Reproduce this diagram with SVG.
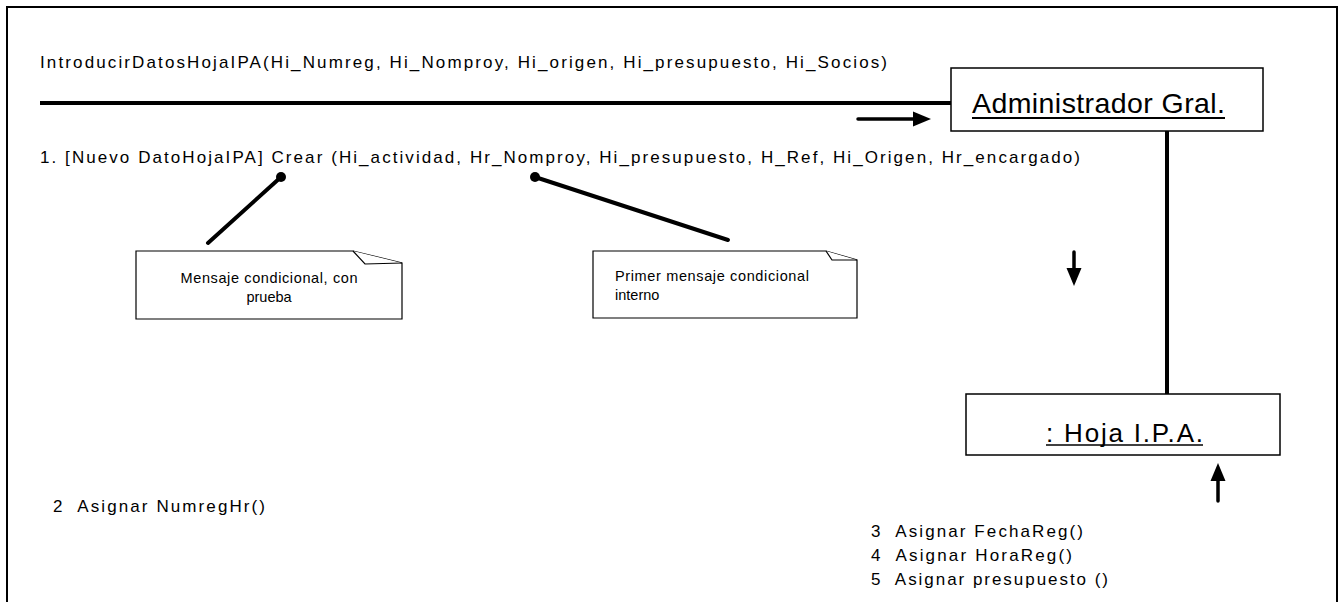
<svg xmlns="http://www.w3.org/2000/svg" width="1339" height="602" viewBox="0 0 1339 602">
  <style>
    text { font-family: "Liberation Sans", Arial, sans-serif; fill: #000; }
    .msg { font-size: 17px; }
    .note-text { font-size: 14.5px; }
    .obj { fill: #fff; stroke: #000; stroke-width: 1.5; }
    .note { fill: #fff; stroke: #000; stroke-width: 1.2; }
    .link { stroke: #000; stroke-width: 4; fill: none; }
    .anchor { stroke: #000; stroke-width: 4; stroke-linecap: round; fill: none; }
    .flow { stroke: #000; stroke-width: 3.5; stroke-linecap: round; fill: none; }
    .head { fill: #000; stroke: none; }
  </style>

  <rect width="1339" height="602" fill="#fff"/>
  <!-- diagram frame -->
  <path d="M7,620 L7,7 L1337,7 L1337,620" fill="none" stroke="#000" stroke-width="2"/>

  <!-- connectors -->
  <g id="connectors">
    <line class="link" x1="40" y1="103" x2="952" y2="103"/>
    <line class="link" x1="1167" y1="131" x2="1167" y2="394"/>
    <!-- message direction arrows -->
    <line class="flow" x1="858" y1="119" x2="916" y2="119"/>
    <polygon class="head" points="913,111.5 931,119 913,126.5"/>
    <line class="flow" x1="1074" y1="252" x2="1074" y2="270"/>
    <polygon class="head" points="1066.5,268 1074,286 1081.5,268"/>
    <line class="flow" x1="1218" y1="501" x2="1218" y2="478"/>
    <polygon class="head" points="1210.5,481 1218,463 1225.5,481"/>
    <!-- note anchors -->
    <line class="anchor" x1="208" y1="243" x2="281" y2="177"/>
    <circle cx="281" cy="177" r="5" fill="#000"/>
    <line class="anchor" x1="535" y1="177" x2="728" y2="240"/>
    <circle cx="535" cy="177" r="5" fill="#000"/>
  </g>

  <!-- message labels -->
  <g id="messages">
    <text class="msg" x="40" y="68" textLength="847" lengthAdjust="spacing">IntroducirDatosHojaIPA(Hi_Numreg, Hi_Nomproy, Hi_origen, Hi_presupuesto, Hi_Socios)</text>
    <text class="msg" x="40" y="163" textLength="1040" lengthAdjust="spacing">1. [Nuevo DatoHojaIPA] Crear (Hi_actividad, Hr_Nomproy, Hi_presupuesto, H_Ref, Hi_Origen, Hr_encargado)</text>
    <text class="msg" x="53" y="512" xml:space="preserve" textLength="212" lengthAdjust="spacing">2  Asignar NumregHr()</text>
    <text class="msg" x="871" y="537" xml:space="preserve" textLength="212" lengthAdjust="spacing">3  Asignar FechaReg()</text>
    <text class="msg" x="871" y="561" xml:space="preserve" textLength="201" lengthAdjust="spacing">4  Asignar HoraReg()</text>
    <text class="msg" x="871" y="585" xml:space="preserve" textLength="237" lengthAdjust="spacing">5  Asignar presupuesto ()</text>
  </g>

  <!-- objects -->
  <g id="administrador">
    <rect class="obj" x="951" y="68" width="312" height="63"/>
    <text x="972" y="113" font-size="28.5" textLength="253" lengthAdjust="spacing">Administrador Gral.</text>
    <line x1="972" y1="118" x2="1225" y2="118" stroke="#000" stroke-width="2"/>
  </g>

  <g id="hoja-ipa">
    <rect class="obj" x="966" y="394" width="314" height="61"/>
    <text x="1046" y="442" font-size="26" textLength="157" lengthAdjust="spacing">: Hoja I.P.A.</text>
    <line x1="1046" y1="445" x2="1203" y2="445" stroke="#000" stroke-width="1.5"/>
  </g>

  <!-- notes -->
  <g id="nota-condicional">
    <path class="note" d="M136,251 L353,251 L402,263 L402,319 L136,319 Z"/>
    <path class="note" d="M353,251 L365,264 L402,263"/>
    <text class="note-text" x="269" y="283" text-anchor="middle" textLength="177" lengthAdjust="spacing">Mensaje condicional, con</text>
    <text class="note-text" x="269" y="302" text-anchor="middle">prueba</text>
  </g>

  <g id="nota-interno">
    <path class="note" d="M593,251 L826,251 L857,260 L857,318 L593,318 Z"/>
    <path class="note" d="M826,251 L832,260 L857,260"/>
    <text class="note-text" x="615" y="281" textLength="194" lengthAdjust="spacing">Primer mensaje condicional</text>
    <text class="note-text" x="615" y="300">interno</text>
  </g>
</svg>
